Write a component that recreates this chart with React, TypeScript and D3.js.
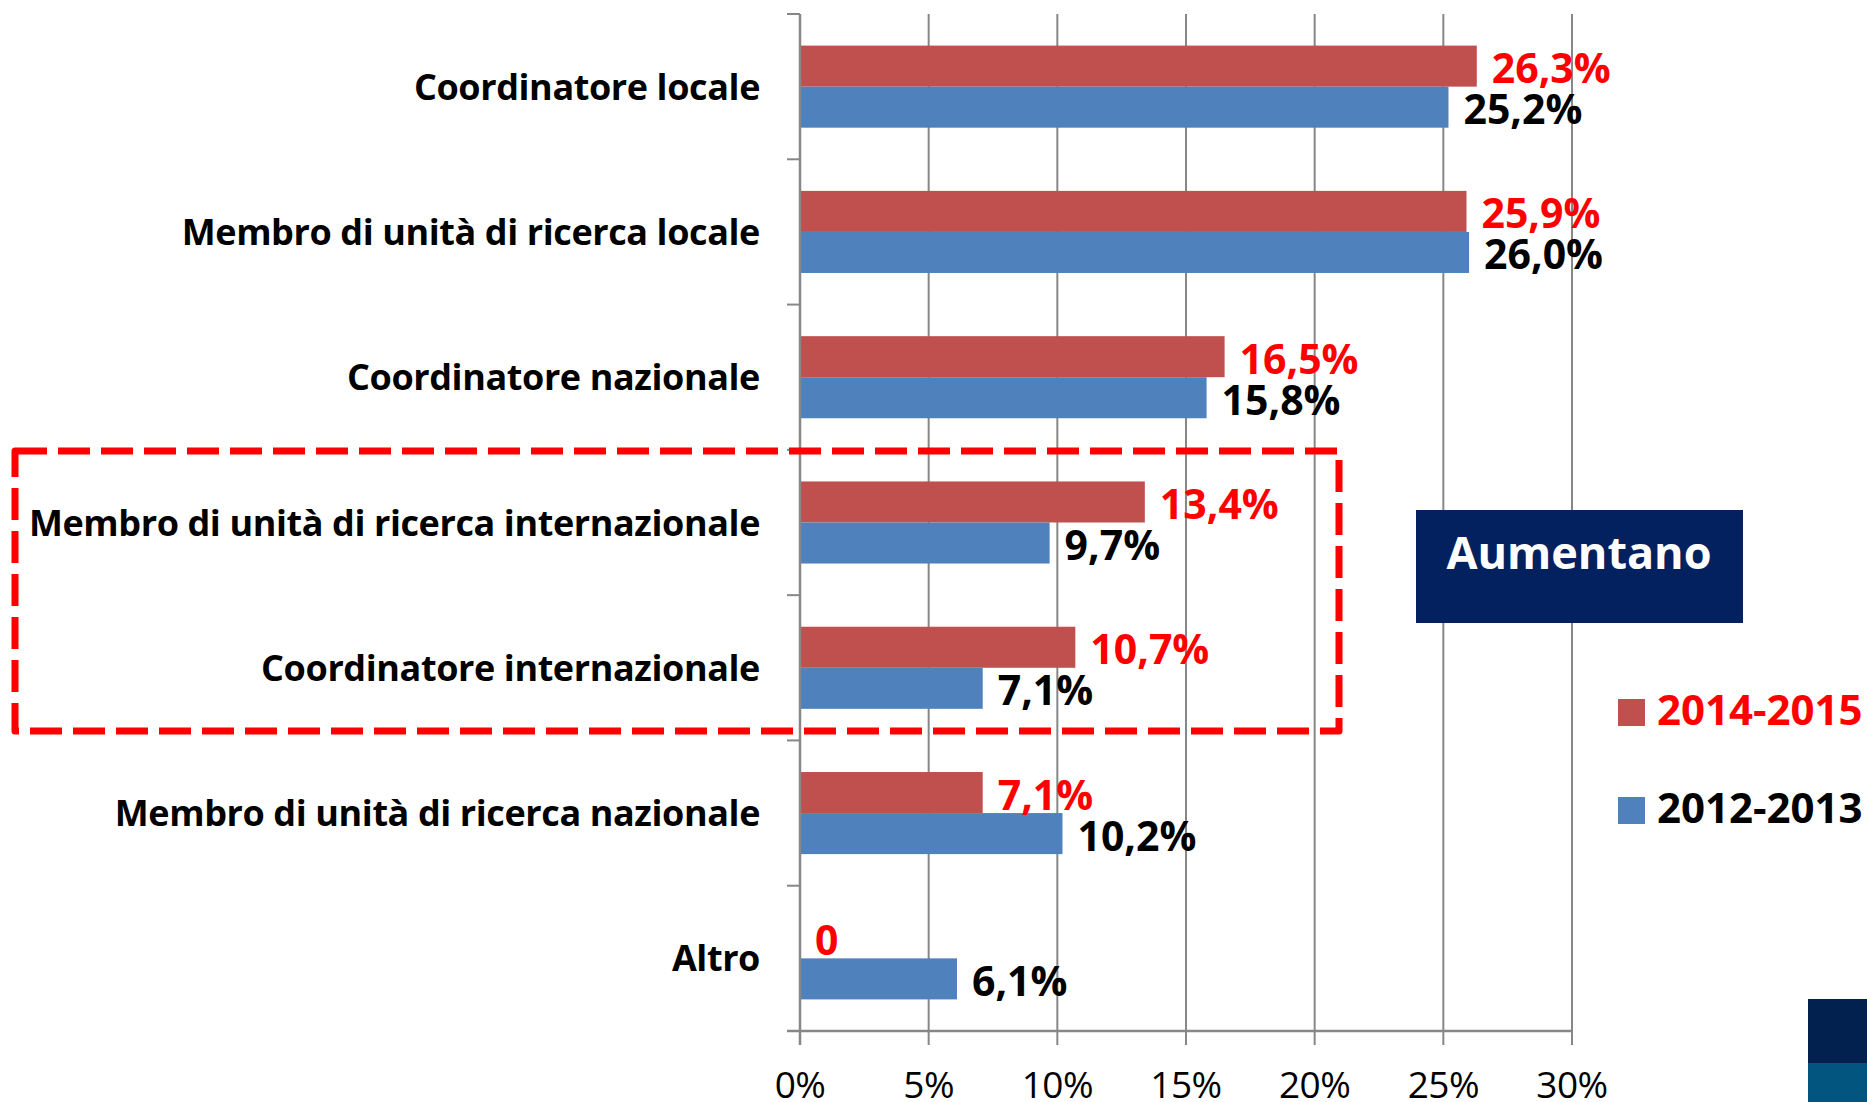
import React from "react";
import * as d3 from "d3";

const categories = [
  "Coordinatore locale",
  "Membro di unità di ricerca locale",
  "Coordinatore nazionale",
  "Membro di unità di ricerca internazionale",
  "Coordinatore internazionale",
  "Membro di unità di ricerca nazionale",
  "Altro",
];
const seriesNames = ["2014-2015", "2012-2013"];
const values2014 = [26.3, 25.9, 16.5, 13.4, 10.7, 7.1, 0];
const values2012 = [25.2, 26.0, 15.8, 9.7, 7.1, 10.2, 6.1];
const labels2014 = ["26,3%", "25,9%", "16,5%", "13,4%", "10,7%", "7,1%", "0"];
const labels2012 = ["25,2%", "26,0%", "15,8%", "9,7%", "7,1%", "10,2%", "6,1%"];
const xTicks = [0, 5, 10, 15, 20, 25, 30];
const xTickLabels = ["0%", "5%", "10%", "15%", "20%", "25%", "30%"];
const highlightTitle = "Aumentano";

const W = 1867;
const H = 1102;
const RED = "#C0504D";
const BLUE = "#4F81BD";
const GRID = "#878787";
const OPEN = "'Open Sans', 'Noto Sans', sans-serif";

export default function App() {
  const x = d3.scaleLinear().domain([0, 30]).range([800, 1572]);
  const y = d3.scaleBand<string>().domain(categories).range([14, 1031]).padding(0);
  const bw = y.bandwidth();
  const ys = d3.scaleBand<string>().domain(seriesNames).range([0, bw]).paddingInner(0).paddingOuter(0.77);
  const series = [
    { name: seriesNames[0], values: values2014, labels: labels2014, fill: RED, text: "#FF0000" },
    { name: seriesNames[1], values: values2012, labels: labels2012, fill: BLUE, text: "#000000" },
  ];
  const boundaries = categories.map((c) => y(c) as number).concat([1031]);

  return (
    <svg width={W} height={H} style={{ position: "absolute", left: 0, top: 0, background: "#fff" }}>
      <rect x={0} y={0} width={W} height={H} fill="#fff" />
      {/* gridlines */}
      {xTicks.slice(1).map((t) => (
        <line key={"g" + t} x1={x(t)} x2={x(t)} y1={14} y2={1045} stroke={GRID} strokeWidth={2} />
      ))}
      {/* bars */}
      {series.map((s) =>
        categories.map((c, i) => (
          <rect
            key={s.name + c}
            x={x(0)}
            y={(y(c) as number) + (ys(s.name) as number)}
            width={x(s.values[i]) - x(0)}
            height={ys.bandwidth()}
            fill={s.fill}
          />
        ))
      )}
      {/* axes */}
      <line x1={800} x2={800} y1={14} y2={1045} stroke={GRID} strokeWidth={2.5} />
      {boundaries.map((b, i) => (
        <line key={"t" + i} x1={787} x2={800} y1={b} y2={b} stroke={GRID} strokeWidth={2} />
      ))}
      <line x1={787} x2={1572} y1={1031} y2={1031} stroke={GRID} strokeWidth={2.5} />
      {xTicks.map((t, i) => (
        <text
          key={"xl" + t}
          x={x(t)}
          y={1098}
          textAnchor="middle"
          fontFamily={OPEN}
          fontSize={37}
          letterSpacing={-0.5}
          fill="#000"
        >
          {xTickLabels[i]}
        </text>
      ))}
      {/* category labels */}
      {categories.map((c) => (
        <text
          key={"cl" + c}
          x={760}
          y={(y(c) as number) + bw / 2 + 13}
          textAnchor="end"
          fontFamily={OPEN}
          fontWeight="bold"
          fontSize={36}
          letterSpacing={-0.4}
          fill="#000"
        >
          {c}
        </text>
      ))}
      {/* value labels */}
      {series.map((s) =>
        categories.map((c, i) => (
          <text
            key={"vl" + s.name + c}
            x={x(s.values[i]) + 15}
            y={(y(c) as number) + (ys(s.name) as number) + ys.bandwidth() / 2 + 17}
            fontFamily={OPEN}
            fontWeight="bold"
            fontSize={41}
            fill={s.text}
          >
            {s.labels[i]}
          </text>
        ))
      )}
      {/* highlight dashed box */}
      <rect
        x={15}
        y={451}
        width={1339 - 15}
        height={731 - 451}
        fill="none"
        stroke="#FF0000"
        strokeWidth={7}
        strokeDasharray="32 11"
        strokeLinejoin="round"
      />
      {/* Aumentano box */}
      <rect x={1416} y={510} width={327} height={113} fill="#03215F" />
      <text x={1579} y={569} textAnchor="middle" fontFamily={OPEN} fontWeight="bold" fontSize={45} fill="#fff">
        {highlightTitle}
      </text>
      {/* legend */}
      {series.map((s, i) => (
        <g key={"lg" + s.name} transform={`translate(1618, ${699 + i * 98})`}>
          <rect x={0} y={0} width={27} height={27} fill={s.fill} />
          <text x={39} y={26} fontFamily={OPEN} fontWeight="bold" fontSize={42} fill={s.text}>
            {s.name}
          </text>
        </g>
      ))}
      {/* corner decoration */}
      <rect x={1808} y={999} width={59} height={64} fill="#03214F" />
      <rect x={1808} y={1063} width={59} height={39} fill="#02557F" />
    </svg>
  );
}
